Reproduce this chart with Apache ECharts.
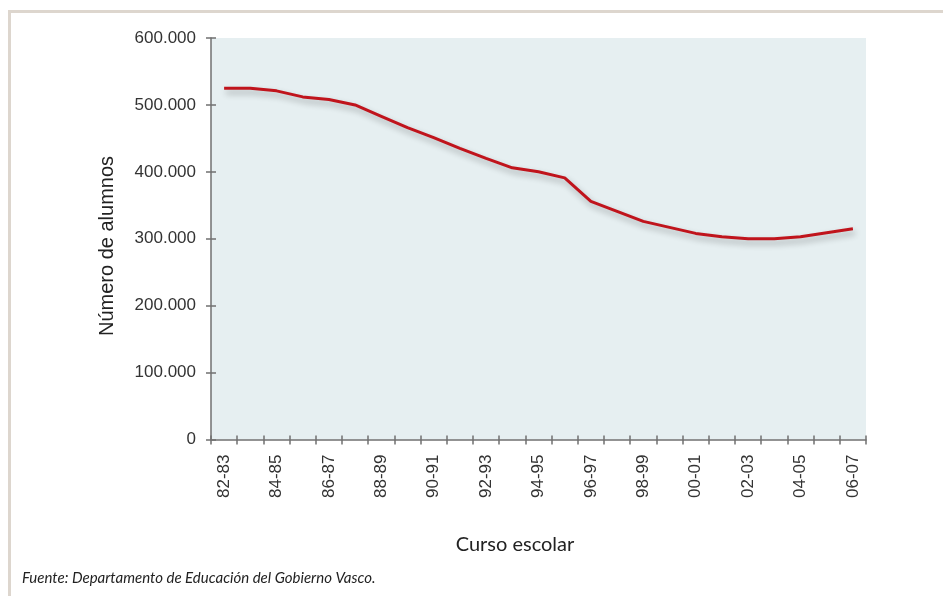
<!DOCTYPE html>
<html>
<head>
<meta charset="utf-8">
<script src="https://cdn.jsdelivr.net/npm/echarts@6/dist/echarts.min.js"></script>
<style>
html,body{margin:0;padding:0;background:#fff;}
#chart{width:943px;height:596px;}
</style>
</head>
<body>
<div id="chart"></div>
<script>
const categories = ['82-83','83-84','84-85','85-86','86-87','87-88','88-89','89-90','90-91','91-92','92-93','93-94','94-95','95-96','96-97','97-98','98-99','99-00','00-01','01-02','02-03','03-04','04-05','05-06','06-07'];
const alumnos = [525000,525000,521000,512000,508000,500000,483000,466000,451000,435000,420000,406000,400000,391000,356000,341000,326000,317000,308000,303000,300000,300000,303000,309000,315000];
const yTicks = {min:0, max:600000, interval:100000};
const yAxisTitle = 'Número de alumnos';
const xAxisTitle = 'Curso escolar';
const sourceNote = 'Fuente: Departamento de Educación del Gobierno Vasco.';

const chart = echarts.init(document.getElementById('chart'), null, {renderer:'canvas'});
const axisColor = '#707070';
const labelFont = {fontFamily:'Liberation Sans', fontSize:17, color:'#333'};
function fmt(v){ return v === 0 ? '0' : (v/1000).toFixed(0) + '.000'; }

chart.setOption({
  animation:false,
  backgroundColor:'#fff',
  grid:{left:211, top:38, right:77, bottom:156.5, show:true, backgroundColor:'#e6eff1', borderWidth:0},
  xAxis:[{
    type:'category', data:categories, boundaryGap:true,
    axisLine:{lineStyle:{color:axisColor, width:1.5}},
    axisTick:{show:true, interval:0, length:5, lineStyle:{color:axisColor, width:1.5}},
    axisLabel:Object.assign({rotate:90, interval:1, margin:15}, labelFont),
    splitLine:{show:false}
  },{
    type:'category', data:categories, boundaryGap:true, position:'bottom',
    axisLine:{show:false},
    axisTick:{show:true, inside:true, interval:0, length:4, lineStyle:{color:axisColor, width:1.5}},
    axisLabel:{show:false}, splitLine:{show:false}
  }],
  yAxis:[{
    type:'value', min:yTicks.min, max:yTicks.max, interval:yTicks.interval,
    axisLine:{show:true, lineStyle:{color:axisColor, width:1.5}},
    axisTick:{show:true, length:5, lineStyle:{color:axisColor, width:1.5}},
    axisLabel:Object.assign({formatter:fmt, margin:15}, labelFont),
    splitLine:{show:false}
  },{
    type:'value', min:yTicks.min, max:yTicks.max, interval:yTicks.interval, position:'left',
    axisLine:{show:false},
    axisTick:{show:true, inside:true, length:5, lineStyle:{color:axisColor, width:1.5}},
    axisLabel:{show:false}, splitLine:{show:false}
  }],
  series:[{
    type:'line', data:alumnos, xAxisIndex:0, yAxisIndex:0,
    symbol:'none', smooth:false,
    lineStyle:{color:'#c0141c', width:3, shadowColor:'rgba(0,0,0,0.3)', shadowBlur:6, shadowOffsetX:2, shadowOffsetY:4}
  }],
  graphic:[
    {type:'rect', shape:{x:9.5, y:11.5, width:1000, height:1000}, style:{fill:'none', stroke:'#ddd6ce', lineWidth:3}, z:-1},
    {type:'text', x:107, y:246, rotation:Math.PI/2, style:{text:yAxisTitle, x:0, y:0, align:'center', verticalAlign:'middle', fontFamily:'Liberation Sans', fontSize:20, fill:'#222'}},
    {type:'text', style:{text:xAxisTitle, x:515, y:545, align:'center', verticalAlign:'middle', fontFamily:'Lato', fontSize:20, fill:'#222'}},
    {type:'text', style:{text:sourceNote, x:22, y:578, verticalAlign:'middle', fontFamily:'Lato', fontStyle:'italic', fontSize:15, fill:'#222'}}
  ]
});
</script>
</body>
</html>
